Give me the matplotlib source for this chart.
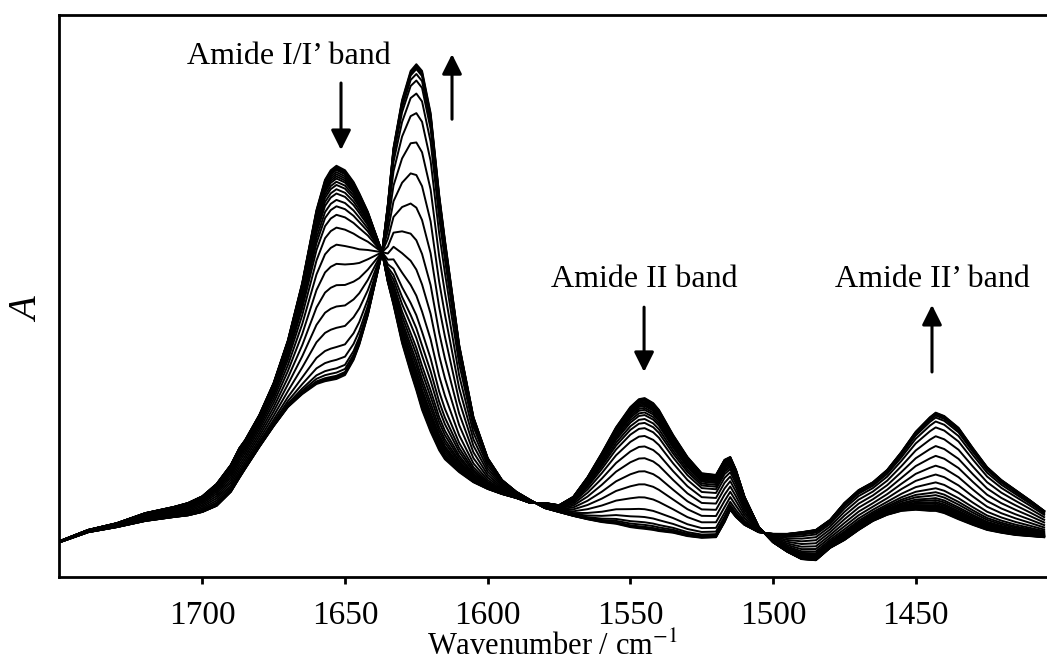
import numpy as np
import matplotlib.pyplot as plt

plt.rcParams['font.family'] = ['Liberation Serif', 'DejaVu Serif']
plt.rcParams['mathtext.fontset'] = 'stix'

# wavenumber grid (cm-1) and absorbance of first and last spectrum of the series
wavenumber = [1750, 1740, 1730, 1720, 1710, 1705, 1700, 1695, 1690, 1687, 1685,
              1680, 1675, 1670, 1665, 1660, 1657, 1655, 1653, 1650, 1647,
              1645, 1642, 1640, 1637, 1635, 1633, 1630, 1627, 1625, 1623,
              1620, 1617, 1615, 1610, 1605, 1600, 1595, 1590, 1585, 1580,
              1575, 1570, 1565, 1560, 1555, 1550, 1547, 1545, 1542, 1540,
              1535, 1530, 1525, 1520, 1517, 1515, 1513, 1510, 1505, 1500,
              1495, 1490, 1485, 1480, 1475, 1470, 1465, 1460, 1455, 1450,
              1445, 1443, 1440, 1435, 1430, 1425, 1420, 1415, 1410, 1405]

absorb_start = [0.063, 0.083, 0.095, 0.113, 0.124, 0.131, 0.143, 0.165, 0.199, 0.229, 0.243,
                0.288, 0.345, 0.421, 0.523, 0.653, 0.707, 0.724, 0.732, 0.724, 0.703,
                0.683, 0.650, 0.621, 0.578, 0.525, 0.484, 0.416, 0.364, 0.332, 0.297,
                0.258, 0.225, 0.209, 0.186, 0.168, 0.156, 0.147, 0.140, 0.131, 0.131,
                0.127, 0.142, 0.177, 0.220, 0.266, 0.302, 0.316, 0.318, 0.309, 0.297,
                0.252, 0.213, 0.184, 0.181, 0.208, 0.213, 0.190, 0.142, 0.088, 0.061,
                0.044, 0.031, 0.029, 0.051, 0.065, 0.083, 0.099, 0.110, 0.117, 0.119,
                0.117, 0.117, 0.113, 0.102, 0.092, 0.083, 0.078, 0.074, 0.072, 0.070]

absorb_end = [0.061, 0.079, 0.088, 0.099, 0.106, 0.109, 0.115, 0.126, 0.151, 0.176, 0.192,
              0.231, 0.268, 0.302, 0.325, 0.343, 0.348, 0.350, 0.352, 0.359, 0.386,
              0.413, 0.466, 0.511, 0.578, 0.662, 0.764, 0.849, 0.901, 0.913, 0.901,
              0.826, 0.680, 0.600, 0.413, 0.284, 0.211, 0.172, 0.151, 0.136, 0.122,
              0.115, 0.108, 0.102, 0.097, 0.094, 0.088, 0.086, 0.085, 0.083, 0.081,
              0.078, 0.072, 0.069, 0.070, 0.097, 0.119, 0.106, 0.092, 0.079, 0.076,
              0.076, 0.079, 0.083, 0.101, 0.131, 0.154, 0.168, 0.190, 0.222, 0.258,
              0.284, 0.292, 0.286, 0.265, 0.229, 0.195, 0.172, 0.154, 0.136, 0.117]

# extent of conversion for every recorded spectrum
conversion = [0.0, 0.005, 0.01, 0.015, 0.02, 0.03, 0.04, 0.05, 0.06, 0.075,
              0.09, 0.11, 0.13, 0.16, 0.19, 0.23, 0.29, 0.37, 0.46, 0.56,
              0.66, 0.76, 0.85, 0.91, 0.95, 0.97, 0.985, 0.99, 0.995, 1.0]

ticks = [1700, 1650, 1600, 1550, 1500, 1450]

wn = np.array(wavenumber)
a0 = np.array(absorb_start)
a1 = np.array(absorb_end)

fig = plt.figure(figsize=(10.47, 6.67), dpi=100)
ax = fig.add_axes([58.5/1047, (667-576.5)/667, (1047-58.5)/1047, 561.1/667])

for f in conversion:
    ax.plot(wn, a0 + f*(a1 - a0), color='black', lw=1.4)

ax.set_xlim(1750.4, 1404.0)
ax.set_ylim(0, 1)
ax.set_xticks(ticks)
ax.set_yticks([])
ax.tick_params(axis='x', direction='out', length=5, width=2, pad=12, labelsize=24)
for side in ['left', 'top', 'bottom']:
    ax.spines[side].set_linewidth(2)
ax.spines['right'].set_visible(False)

ax.set_xlabel('Wavenumber / cm$^{-1}$', fontsize=22, labelpad=1)
ax.set_ylabel('A', fontstyle='italic', fontsize=28)
ax.yaxis.set_label_coords(-0.012, 0.474)

# band labels and direction arrows
txt = dict(fontsize=23, ha='center', va='baseline')
ax.text(1669.6, 0.9126, 'Amide I/I\u2019 band', **txt)
ax.text(1545.0, 0.516, 'Amide II band', **txt)
ax.text(1444.1, 0.516, 'Amide II\u2019 band', **txt)

arrow = dict(arrowstyle='-|>,head_length=0.6,head_width=0.3', color='black',
             lw=2.2, shrinkA=0, shrinkB=0, mutation_scale=20)
ax.annotate('', xy=(1651.4, 0.760), xytext=(1651.4, 0.8795), arrowprops=arrow)
ax.annotate('', xy=(1612.5, 0.931), xytext=(1612.5, 0.815), arrowprops=arrow)
ax.annotate('', xy=(1545.2, 0.3645), xytext=(1545.2, 0.480), arrowprops=arrow)
ax.annotate('', xy=(1444.3, 0.484), xytext=(1444.3, 0.3645), arrowprops=arrow)

fig.savefig('out.png', dpi=100)
